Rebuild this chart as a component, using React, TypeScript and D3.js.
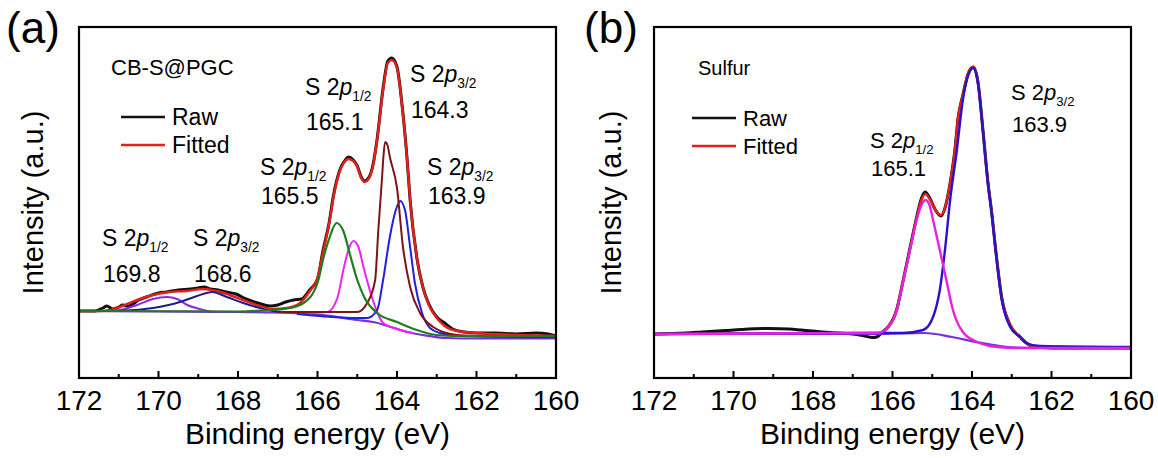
import React from "react";
import * as d3 from "d3";

type Pt = [number, number];

// ---------- DATA (binding energy eV, intensity a.u.) ----------
const majorTicks = [172, 170, 168, 166, 164, 162, 160];
const minorTicks = [171, 169, 167, 165, 163, 161];

// Panel (a) CB-S@PGC
const rawA: Pt[] = [
  [172, 67], [171.6, 67], [171.4, 70], [171.3, 72], [171.15, 69], [171.0, 71], [170.9, 73], [170.75, 72],
  [170.5, 78], [170.3, 81], [170.0, 85], [169.8, 86], [169.5, 88], [169.2, 89], [169.0, 90], [168.85, 91],
  [168.7, 89], [168.5, 88], [168.3, 86], [168.05, 84], [167.8, 79], [167.5, 75], [167.2, 72], [167.0, 73],
  [166.8, 76], [166.6, 78], [166.4, 79], [166.2, 88], [166.0, 99], [165.86, 128], [165.7, 157], [165.61, 180],
  [165.43, 209], [165.3, 218], [165.23, 221], [165.1, 218], [165.0, 212], [164.9, 201], [164.82, 197],
  [164.7, 201], [164.6, 214], [164.5, 239], [164.35, 290], [164.23, 317], [164.13, 320], [164.0, 311],
  [163.87, 272], [163.75, 221], [163.67, 178], [163.5, 120], [163.35, 91], [163.2, 74], [163.0, 61],
  [162.8, 55], [162.6, 49], [162.3, 46], [162.0, 45], [161.5, 45], [161.0, 44], [160.5, 45], [160.2, 44], [160, 42],
];
const fittedA: Pt[] = [
  [172, 67], [171.5, 67], [171.2, 68], [170.97, 71], [170.54, 78], [170.14, 83], [169.72, 86], [169.29, 87],
  [168.89, 89], [168.54, 87], [168.21, 83], [167.88, 78], [167.45, 72], [167.12, 69], [166.77, 70], [166.44, 75],
  [166.19, 87], [166.0, 100], [165.86, 126], [165.7, 156], [165.61, 178], [165.43, 208], [165.3, 217],
  [165.23, 219], [165.1, 217], [165.01, 212], [164.9, 200], [164.82, 196], [164.7, 200], [164.6, 213],
  [164.5, 238], [164.35, 288], [164.23, 315], [164.13, 318], [164.0, 310], [163.87, 271], [163.75, 221],
  [163.67, 178], [163.5, 120], [163.35, 91], [163.2, 73], [163.0, 60], [162.8, 52], [162.5, 47], [162.0, 45],
  [161.0, 43], [160, 42],
];
const backgroundA: Pt[] = [
  [172, 67], [170, 66.5], [168, 66], [166.7, 65], [165.86, 63], [165.0, 58], [164.6, 56], [164.15, 51],
  [163.75, 46], [163.35, 43], [162.74, 40], [162, 39.5], [160, 39.5],
];
const peak1698: Pt[] = [
  [171.3, 67], [170.97, 68], [170.54, 73], [170.14, 79], [169.79, 81], [169.53, 79], [169.28, 73],
  [168.96, 69], [168.63, 66], [168.2, 66],
];
const peak1686: Pt[] = [
  [170.97, 67], [170.14, 70], [169.46, 76], [169.03, 82], [168.65, 86], [168.28, 81], [167.87, 75],
  [167.45, 70], [167.12, 67], [166.8, 66],
];
const peak1655: Pt[] = [
  [172, 67], [168, 66.5], [167.2, 68], [166.7, 70], [166.35, 75], [166.0, 95], [165.85, 120], [165.7, 140],
  [165.52, 155], [165.35, 147], [165.18, 123], [165.0, 98], [164.8, 79], [164.5, 65], [164.0, 56],
  [163.5, 48], [163.0, 43], [162.5, 42], [160, 42],
];
const peak1651A: Pt[] = [
  [166.2, 65], [165.75, 66], [165.5, 80], [165.35, 108], [165.23, 127], [165.1, 137], [164.97, 131],
  [164.85, 112], [164.67, 86], [164.5, 66], [164.35, 55], [164.0, 49], [163.6, 45],
];
const peak1643: Pt[] = [
  [167.0, 66], [165.0, 66], [164.75, 75], [164.55, 98], [164.47, 148], [164.38, 198], [164.34, 222],
  [164.3, 236], [164.24, 233], [164.18, 221], [164.0, 190], [163.85, 131], [163.67, 91], [163.42, 65],
  [163.09, 51], [162.84, 46], [162.5, 43], [162, 42], [160, 41],
];
const peak1639A: Pt[] = [
  [166.5, 64], [165.0, 60], [164.75, 60], [164.5, 68], [164.35, 98], [164.18, 141], [164.03, 168],
  [163.92, 177], [163.8, 168], [163.67, 131], [163.55, 95], [163.37, 65], [163.17, 50], [162.92, 45],
  [162.5, 42], [160, 41],
];

// Panel (b) Sulfur
const rawB: Pt[] = [
  [172, 44], [171.2, 45], [170.8, 46], [170.2, 47.5], [169.8, 48.5], [169.1, 49.5], [168.6, 49], [168.3, 48],
  [167.6, 45.5], [167.0, 44], [166.7, 42], [166.5, 40.5], [166.4, 41], [166.3, 44], [166.2, 48], [166.11, 51],
  [165.89, 69], [165.74, 96], [165.56, 130], [165.38, 163], [165.27, 180], [165.18, 186], [165.05, 179],
  [164.92, 168], [164.78, 162], [164.68, 170], [164.55, 195], [164.43, 228], [164.35, 260], [164.23, 283],
  [164.1, 304], [163.97, 311], [163.85, 296], [163.72, 246], [163.6, 196], [163.5, 164], [163.42, 134],
  [163.25, 80], [163.04, 53], [162.79, 41], [162.5, 32], [162.0, 30], [160, 30],
];
const fittedB: Pt[] = [
  [172, 44], [166.3, 45], [166.11, 51], [165.89, 69], [165.74, 96], [165.56, 129], [165.38, 162],
  [165.27, 178], [165.18, 184], [165.05, 178], [164.92, 168], [164.78, 163], [164.68, 170], [164.55, 195],
  [164.43, 228], [164.35, 260], [164.23, 283], [164.1, 304], [163.97, 311], [163.85, 296], [163.72, 246],
  [163.6, 196], [163.5, 164], [163.42, 134], [163.25, 80], [163.04, 53], [162.79, 41], [162.5, 32],
  [162.0, 30], [160, 30],
];
const backgroundB: Pt[] = [
  [172, 44], [166.5, 44], [165.2, 45], [164.5, 41], [163.9, 36], [163.2, 31.5], [162.5, 30], [160, 30],
];
const peak1651B: Pt[] = [
  [172, 44], [167.0, 45], [166.39, 45], [166.11, 51], [165.89, 68], [165.74, 95], [165.56, 128],
  [165.38, 160], [165.27, 173], [165.17, 178], [165.07, 173], [164.98, 158], [164.81, 128], [164.63, 95],
  [164.48, 68], [164.23, 46], [163.87, 36], [163.37, 31], [162.79, 30], [160, 30],
];
const peak1639B: Pt[] = [
  [172, 44], [166.31, 45], [165.74, 45], [165.23, 48], [164.98, 61], [164.81, 88], [164.68, 128],
  [164.55, 178], [164.38, 228], [164.23, 278], [164.1, 302], [163.97, 310], [163.85, 295], [163.72, 245],
  [163.6, 195], [163.5, 163], [163.42, 133], [163.25, 78], [163.04, 51], [162.79, 41], [162.64, 35],
  [162.29, 32], [160, 31],
];

// ---------- LAYOUT ----------
const FONT = "'Liberation Sans', Arial, Helvetica, sans-serif";
const TOP = 27;
const BOTTOM = 378;

type Series = { data: Pt[]; color: string; width: number };

function Panel(props: {
  left: number; right: number; letter: string; letterX: number; ylabelX: number;
  series: Series[]; children?: React.ReactNode;
}) {
  const { left, right, series } = props;
  const x = d3.scaleLinear().domain([172, 160]).range([left, right]);
  const y = d3.scaleLinear().domain([0, 351]).range([BOTTOM, TOP]);
  const line = d3.line<Pt>().x((d) => x(d[0])).y((d) => y(d[1])).curve(d3.curveMonotoneX);
  const cx = (left + right) / 2;
  const cy = (TOP + BOTTOM) / 2;
  return (
    <g>
      <defs>
        <clipPath id={`clip-${props.letter}`}>
          <rect x={left} y={TOP} width={right - left} height={BOTTOM - TOP} />
        </clipPath>
      </defs>
      <g clipPath={`url(#clip-${props.letter})`}>
        {series.map((s, i) => (
          <path key={i} d={line(s.data) || ""} fill="none" stroke={s.color} strokeWidth={s.width}
            strokeLinejoin="round" strokeLinecap="round" />
        ))}
      </g>
      <rect x={left} y={TOP} width={right - left} height={BOTTOM - TOP} fill="none" stroke="#000" strokeWidth={2.2} />
      {majorTicks.map((t) => (
        <g key={"M" + t}>
          <line x1={x(t)} x2={x(t)} y1={BOTTOM} y2={BOTTOM - 7} stroke="#000" strokeWidth={2} />
          <text x={x(t)} y={410} textAnchor="middle" fontSize={28} fontFamily={FONT}>{t}</text>
        </g>
      ))}
      {minorTicks.map((t) => (
        <line key={"m" + t} x1={x(t)} x2={x(t)} y1={BOTTOM} y2={BOTTOM - 4} stroke="#000" strokeWidth={2} />
      ))}
      <text x={cx} y={444} textAnchor="middle" fontSize={30} fontFamily={FONT}>Binding energy (eV)</text>
      <text transform={`translate(${props.ylabelX},${cy}) rotate(-90)`} textAnchor="middle" fontSize={29}
        fontFamily={FONT}>Intensity (a.u.)</text>
      <text x={props.letterX} y={43} fontSize={44} fontFamily={FONT}>({props.letter})</text>
      {props.children}
    </g>
  );
}

function PeakLabel(props: { x: number; y: number; sub: string; value: string; gap: number; size?: number }) {
  const fs = props.size || 23;
  return (
    <g fontFamily={FONT}>
      <text x={props.x} y={props.y} fontSize={fs}>
        S 2<tspan fontStyle="italic">p</tspan>
        <tspan fontSize={fs * 0.6} dy={6}>{props.sub}</tspan>
      </text>
      <text x={props.x + 1} y={props.y + props.gap} fontSize={fs}>{props.value}</text>
    </g>
  );
}

function Legend(props: { x: number; y: number; size: number }) {
  const { x, y } = props;
  return (
    <g fontFamily={FONT} fontSize={props.size}>
      <line x1={x} x2={x + 44} y1={y} y2={y} stroke="#111" strokeWidth={2.5} />
      <text x={x + 51} y={y + 8}>Raw</text>
      <line x1={x} x2={x + 44} y1={y + 28} y2={y + 28} stroke="#e3201b" strokeWidth={2.5} />
      <text x={x + 51} y={y + 36}>Fitted</text>
    </g>
  );
}

export default function App() {
  const seriesA: Series[] = [
    { data: rawA, color: "#111111", width: 3 },
    { data: fittedA, color: "#e3201b", width: 2.4 },
    { data: backgroundA, color: "#7b2fd8", width: 2.2 },
    { data: peak1698, color: "#8a2be2", width: 2 },
    { data: peak1686, color: "#1c1c8a", width: 2 },
    { data: peak1651A, color: "#f022f0", width: 2 },
    { data: peak1639A, color: "#1f1fe6", width: 2 },
    { data: peak1643, color: "#7a1616", width: 2 },
    { data: peak1655, color: "#1e7d1e", width: 2.2 },
  ];
  const seriesB: Series[] = [
    { data: rawB, color: "#111111", width: 3 },
    { data: fittedB, color: "#e3201b", width: 2.4 },
    { data: backgroundB, color: "#7b2fd8", width: 2.2 },
    { data: peak1639B, color: "#2a12cc", width: 2.4 },
    { data: peak1651B, color: "#e820e0", width: 2.4 },
  ];
  return (
    <svg width={1158} height={458} style={{ position: "absolute", left: 0, top: 0, background: "#fff" }}>
      <rect x={0} y={0} width={1158} height={458} fill="#fff" />
      <Panel left={79} right={556} letter="a" letterX={6} ylabelX={43} series={seriesA}>
        <text x={111} y={75} fontSize={22} fontFamily={FONT}>CB-S@PGC</text>
        <Legend x={121} y={117} size={23} />
        <PeakLabel x={305} y={95} sub="1/2" value="165.1" gap={35} />
        <PeakLabel x={410} y={82} sub="3/2" value="164.3" gap={36} />
        <PeakLabel x={260} y={175} sub="1/2" value="165.5" gap={29} />
        <PeakLabel x={427} y={175} sub="3/2" value="163.9" gap={29} />
        <PeakLabel x={102} y={246} sub="1/2" value="169.8" gap={36} />
        <PeakLabel x={193} y={246} sub="3/2" value="168.6" gap={36} />
      </Panel>
      <Panel left={654} right={1131} letter="b" letterX={584} ylabelX={621} series={seriesB}>
        <text x={698} y={75} fontSize={20} fontFamily={FONT}>Sulfur</text>
        <Legend x={692} y={118} size={22} />
        <PeakLabel x={1011} y={100} sub="3/2" value="163.9" gap={32} size={22} />
        <PeakLabel x={870} y={148} sub="1/2" value="165.1" gap={28} size={22} />
      </Panel>
    </svg>
  );
}
